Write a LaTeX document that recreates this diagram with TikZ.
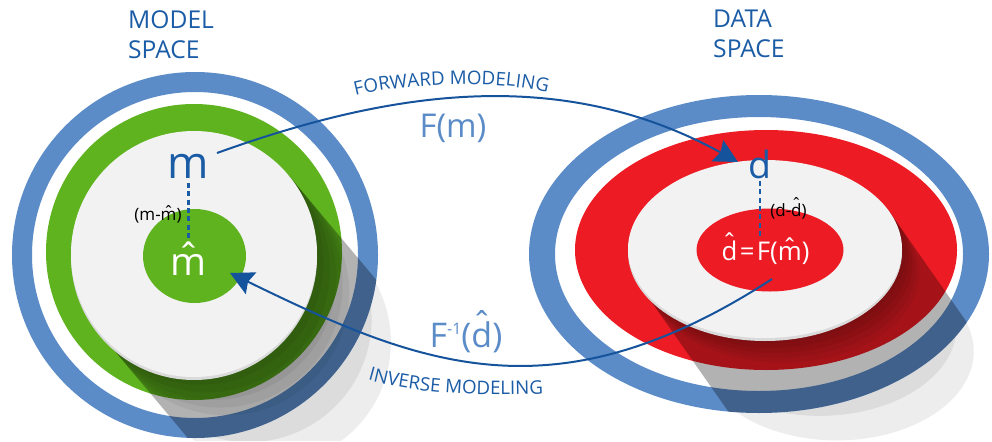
\documentclass[tikz,border=0pt]{standalone}
\usepackage{fontspec}
\setmainfont{Open Sans}
\usetikzlibrary{arrows.meta,decorations.text,calc}
\definecolor{ringblue}{HTML}{5B8CC8}
\definecolor{ggreen}{HTML}{5EB31E}
\definecolor{rred}{HTML}{ED1C24}
\definecolor{diskgray}{HTML}{F2F2F2}
\definecolor{diskrim}{HTML}{DADADA}
\definecolor{tblue}{HTML}{1B5CA6}
\definecolor{lblue}{HTML}{5B8CC8}
\definecolor{ablue}{HTML}{15539C}
\newcommand\curvefont{\fontsize{16}{18}\selectfont}
\newcommand\fsz[2]{\fontsize{#1}{#2}\selectfont}
% hat accent built from U+02C6
\newcommand\hatc[1]{{\setbox0\hbox{#1}\setbox2\hbox{\char"02C6}%
  \hbox to\wd0{\hss\raise\dimexpr\ht0-\fontdimen5\font+0.08em\relax\box2\hss}\kern-\wd0\box0}}
\begin{document}
\begin{tikzpicture}[x=0.3mm,y=-0.3mm,
  ringshadow/.style={fill=black,fill opacity=0.3},
  nearshadow/.style={fill=black,fill opacity=0.05},
  outshadow/.style={fill=black,fill opacity=0.07},
  arrowline/.style={draw=ablue,line width=1.7pt,-{Stealth[length=7mm,width=7.2mm,inset=1mm]}},
  dotline/.style={draw=tblue,line width=0.75mm,dash pattern=on 1.5mm off 1mm},
  title/.style={text=tblue,font=\fsz{21}{25.6},align=left,inner sep=0pt,anchor=north west},
  letter/.style={inner sep=0pt,anchor=base}]
\fill[white] (0,0) rectangle (992,441);
\useasboundingbox (0,0) rectangle (992,441);

% ---------- left: model space ----------
\begin{scope}[even odd rule]
  \clip (0,0) rectangle (992,441) (195,255) circle[radius=183];
  \foreach \L in {85,115}
    \fill[outshadow] (288.2,174.9) -- ++(50:\L) arc[start angle=-40,end angle=140,radius=123] -- (99.8,333.1) -- cycle;
\end{scope}
\fill[ringblue,even odd rule] (195,255) circle[radius=183] (195,255) circle[radius=163];
\fill[ggreen] (194,252) circle[radius=148];
\begin{scope}
  \clip (195,255) circle[radius=183];
  \fill[ringshadow] (288.2,174.9) -- ++(50:220) arc[start angle=-40,end angle=140,radius=123] -- (99.8,333.1) -- cycle;
  \foreach \L in {10,20,30,40,50}
    \fill[nearshadow] (288.2,174.9) -- ++(50:\L) arc[start angle=-40,end angle=140,radius=123] -- (99.8,333.1) -- cycle;
\end{scope}
\fill[diskrim] (194,257) circle[radius=123];
\fill[diskgray] (194,254) circle[radius=123];
\fill[ggreen] (194.5,256) ellipse[x radius=51.5,y radius=47];

% ---------- right: data space ----------
\begin{scope}[even odd rule]
  \clip (0,0) rectangle (992,441) (759,254) ellipse[x radius=230,y radius=159];
  \foreach \L in {95,125}
    \fill[outshadow] (889.7,212.1) -- ++(55:\L) arc[start angle=-24.5,end angle=155.5,x radius=137,y radius=89] -- (640.3,285.9) -- cycle;
\end{scope}
\fill[ringblue,even odd rule] (759,254) ellipse[x radius=230,y radius=159] (759,254) ellipse[x radius=204,y radius=137];
\fill[rred] (766,250) ellipse[x radius=191,y radius=120];
\begin{scope}
  \clip (759,254) ellipse[x radius=230,y radius=159];
  \fill[ringshadow] (889.7,212.1) -- ++(55:220) arc[start angle=-24.5,end angle=155.5,x radius=137,y radius=89] -- (640.3,285.9) -- cycle;
  \foreach \L in {6,12,18,24,30}
    \fill[nearshadow] (889.7,212.1) -- ++(55:\L) arc[start angle=-24.5,end angle=155.5,x radius=137,y radius=89] -- (640.3,285.9) -- cycle;
\end{scope}
\fill[diskrim] (765,252) ellipse[x radius=137,y radius=89];
\fill[diskgray] (765,249) ellipse[x radius=137,y radius=89];
\fill[rred] (770,250) ellipse[x radius=73.5,y radius=41.5];

% ---------- titles ----------
\node[title] (mspace) at (128,10) {MODEL\\SPACE};
\node[title] (dspace) at (713,10) {DATA\\SPACE};

% ---------- letters ----------
\node[letter,text=tblue,font=\fsz{38}{40}] (m) at (188.5,178) {m};
\node[letter,text=white,font=\fsz{33}{36}] (mhat) at (188.5,275) {\hatc{m}};
\node[letter,text=black,font=\fsz{14.5}{16}] (mdiff) at (158,220) {(m-\hatc{m})};
\node[letter,text=tblue,font=\fsz{32}{34}] (d) at (760,178) {d};
\node[letter,text=black,font=\fsz{14.5}{16}] (ddiff) at (788.5,216) {(d-\hatc{d})};
\node[letter,text=white,font=\fsz{22}{24}] (dhat) at (765.5,260) {\hatc{d}\kern2pt=\kern2pt F(\hatc{m})};
\node[letter,text=lblue,font=\fsz{28}{30}] (fm) at (453,137) {F(m)};
\node[letter,text=lblue,font=\fsz{29}{31}] (finv) at (466,347) {F\raisebox{11pt}{\fsz{13.5}{14}-1}(\hatc{d})};

% ---------- dotted residual lines ----------
\coordinate (mtop) at (188.5,183);
\coordinate (mbot) at (188.5,238);
\draw[dotline] (mtop) -- (mbot);
\coordinate (dtop) at (760,181);
\coordinate (dbot) at (760,238);
\draw[dotline] (dtop) -- (dbot);

% ---------- arrows ----------
\coordinate (fs) at (217,153);
\coordinate (fe) at (738,162);
\draw[arrowline] (fs) .. controls (380,94.5) and (555,61.6) .. (fe);
\coordinate (is) at (772,279);
\coordinate (ie) at (230,273);
\draw[arrowline] (is) .. controls (553,421) and (419,365) .. (ie);

% ---------- curved labels ----------
\path[decorate,decoration={text along path,text align=center,text color=tblue,
  text={|\curvefont|FORWARD MODELING}}] (355,96) .. controls (410,82) and (500,80) .. (548,93);
\path[decorate,decoration={text along path,text align=center,text color=tblue,
  text={|\curvefont|INVERSE MODELING}}] (368,380) .. controls (410,392) and (470,397) .. (543,394);
\end{tikzpicture}
\end{document}
